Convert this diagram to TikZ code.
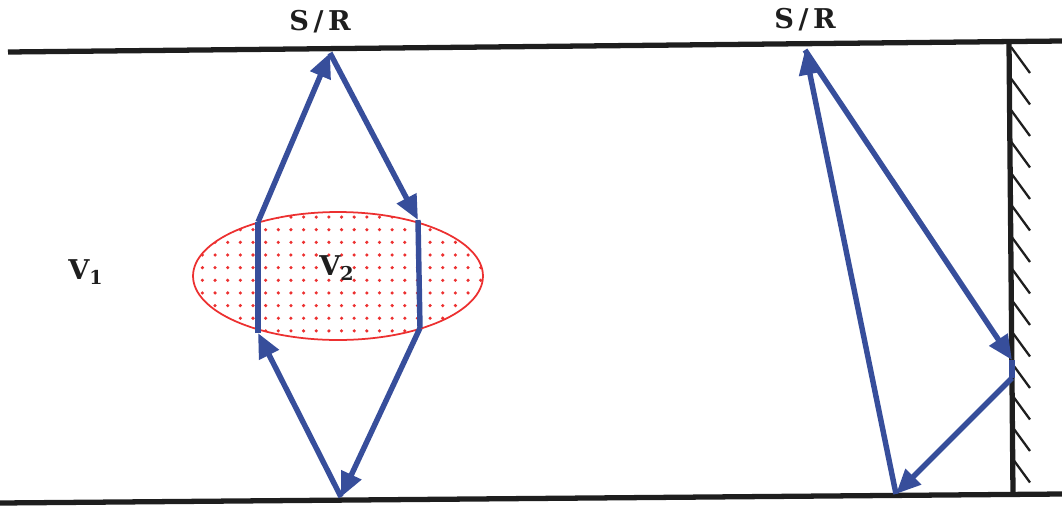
\documentclass[tikz,border=0pt]{standalone}
\usepackage{fontspec}
\setmainfont{DejaVu Serif}
\usepackage{xcolor}
\definecolor{rayBlue}{RGB}{55, 78, 155}
\definecolor{bodyRed}{RGB}{236, 48, 48}
\definecolor{lineDark}{RGB}{30, 30, 30}
\usetikzlibrary{
    arrows.meta,
    shapes.geometric,
    patterns.meta
}

\begin{document}
\begin{tikzpicture}[
    x=0.02cm, y=-0.02cm,
    boundary/.style={line width=3pt, draw=lineDark},
    hatchLine/.style={line width=1.3pt, draw=lineDark},
    rayLine/.style={line width=3.1pt, draw=rayBlue},
    rayArrow/.style={
        rayLine, -{Triangle[length=14pt, width=12pt]}
    },
    lowBody/.style={
        ellipse, draw=bodyRed, line width=1pt,
        minimum width=5.8cm, minimum height=2.56cm,
        pattern={Dots[distance=7.2pt, radius=1pt]}, pattern color=bodyRed
    },
    lbl/.style={
        font=\fontsize{15.5}{18}\selectfont\bfseries,
        text=lineDark, inner sep=0pt
    }
]
    \useasboundingbox (0,0) rectangle (1062,508);

    % Surfaces and reflecting wall
    \coordinate (topL) at (8,52);
    \coordinate (topR) at (1062,41);
    \coordinate (botL) at (0,503);
    \coordinate (botR) at (1062,494);
    \coordinate (wallT) at (1009,42);
    \coordinate (wallB) at (1013,494);

    \draw[boundary] (topL) -- (topR);
    \draw[boundary] (botL) -- (botR);
    \draw[boundary] (wallT) -- (wallB);
    \foreach \k in {0,...,13}
        \draw[hatchLine] (1011,47+31.5*\k) -- ++(19,26);

    % Low velocity body
    \node[lowBody] (body) at (338,276) {};

    % Labels
    \node[lbl] (srOne) at (320,22) {S\,/\,R};
    \node[lbl] (srTwo) at (805,20) {S\,/\,R};
    \node[lbl] (vOne) at (86,272) {V\textsubscript{1}};
    \node[lbl] (vTwo) at (337,268) {V\textsubscript{2}};

    % Path through the body
    \coordinate (srA) at (330,53);
    \coordinate (inR) at (418,220);
    \coordinate (outR) at (420,328);
    \coordinate (bounceA) at (341,497);
    \coordinate (inL) at (258,333);
    \coordinate (outL) at (258,222);

    \draw[rayArrow] (srA) -- (inR);
    \draw[rayLine] (inR) -- (outR);
    \draw[rayArrow] (outR) -- (bounceA);
    \draw[rayArrow] (bounceA) -- (inL);
    \draw[rayLine] (inL) -- (outL);
    \draw[rayArrow] (outL) -- (srA);

    % Path off the wall
    \coordinate (srB) at (805,50);
    \coordinate (hitW) at (1012,360);
    \coordinate (leaveW) at (1012,378);
    \coordinate (bounceB) at (896,494);

    \draw[rayArrow] (srB) -- (hitW);
    \draw[rayLine] (hitW) -- (leaveW);
    \draw[rayArrow] (leaveW) -- (bounceB);
    \draw[rayArrow] (bounceB) -- (srB);

\end{tikzpicture}
\end{document}
